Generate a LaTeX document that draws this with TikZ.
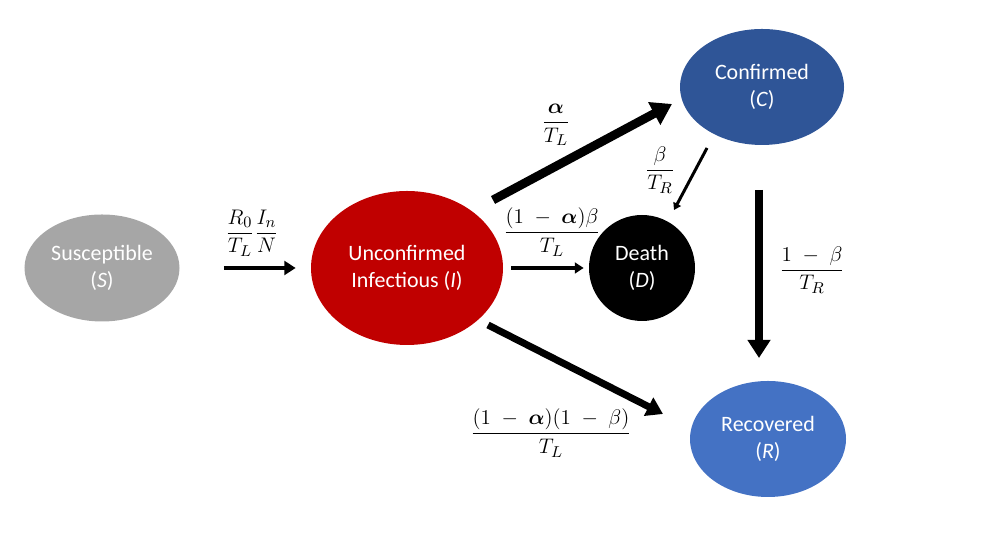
\documentclass[tikz,border=0pt]{standalone}
\usepackage{amsmath,amssymb}
\usepackage{fontspec}
\setmainfont{Carlito}
\usepackage{xcolor}
\usepackage{tikz}
\usetikzlibrary{arrows.meta,shapes.geometric}
\definecolor{sgrey}{HTML}{A6A6A6}
\definecolor{ired}{HTML}{C00000}
\definecolor{cblue}{HTML}{2F5597}
\definecolor{rblue}{HTML}{4472C4}
\definecolor{ink}{HTML}{000000}
\tikzset{
  state/.style={ellipse, draw=none, text=white, align=center, inner sep=0pt,
    font=\fontsize{12.5}{15.5}\selectfont},
  flow/.style={draw=ink, -{Triangle[length=0pt 2.3,width=0pt 2.8]}},
  rate/.style={text=ink, font=\fontsize{13}{15}\selectfont}
}

\begin{document}
\begin{tikzpicture}
  \useasboundingbox (0,0) rectangle (19.66,10.78);

  % compartments
  \node[state, fill=sgrey, minimum width=3.10cm, minimum height=2.14cm] (S) at (2.04,5.42) {Susceptible\\(\textit{S})};
  \node[state, fill=ired, minimum width=3.84cm, minimum height=3.08cm] (I) at (8.14,5.42) {Unconfirmed\\Infectious (\textit{I})};
  \node[state, fill=ink, minimum width=2.12cm, minimum height=2.12cm] (D) at (12.84,5.42) {Death\\(\textit{D})};
  \node[state, fill=cblue, minimum width=3.28cm, minimum height=2.32cm] (C) at (15.24,9.04) {Confirmed\\(\textit{C})};
  \node[state, fill=rblue, minimum width=3.12cm, minimum height=2.32cm] (R) at (15.36,2.00) {Recovered\\(\textit{R})};

  % arrow ends
  \coordinate (ic0) at (9.86,6.78);
  \coordinate (ic1) at (13.44,8.70);
  \coordinate (cd0) at (14.14,7.82);
  \coordinate (cd1) at (13.48,6.58);
  \coordinate (cr0) at (15.18,6.98);
  \coordinate (cr1) at (15.18,3.62);
  \coordinate (ir0) at (9.76,4.28);
  \coordinate (ir1) at (13.26,2.50);

  % flows
  \draw[flow, line width=2.8pt, shorten <=0.88cm, shorten >=0.30cm] (S) -- (I);
  \draw[flow, line width=2.2pt, shorten <=0.16cm, shorten >=0.10cm] (I) -- (D);
  \draw[flow, line width=5pt] (ic0) -- (ic1);
  \draw[flow, line width=1.7pt] (cd0) -- (cd1);
  \draw[flow, line width=4.5pt] (cr0) -- (cr1);
  \draw[flow, line width=4pt] (ir0) -- (ir1);

  % rates
  \node[rate] (rSI) at (5.04,6.12) {$\dfrac{R_0}{T_L}\dfrac{I_n}{N}$};
  \node[rate] (rIC) at (11.12,8.28) {$\dfrac{\boldsymbol{\alpha}}{T_L}$};
  \node[rate] (rCD) at (13.20,7.38) {$\dfrac{\beta}{T_R}$};
  \node[rate] (rID) at (11.04,6.14) {$\dfrac{(1\;-\;\boldsymbol{\alpha})\beta}{T_L}$};
  \node[rate] (rCR) at (16.24,5.38) {$\dfrac{1\;-\;\beta}{T_R}$};
  \node[rate] (rIR) at (11.02,2.12) {$\dfrac{(1\;-\;\boldsymbol{\alpha})(1\;-\;\beta)}{T_L}$};
\end{tikzpicture}
\end{document}
